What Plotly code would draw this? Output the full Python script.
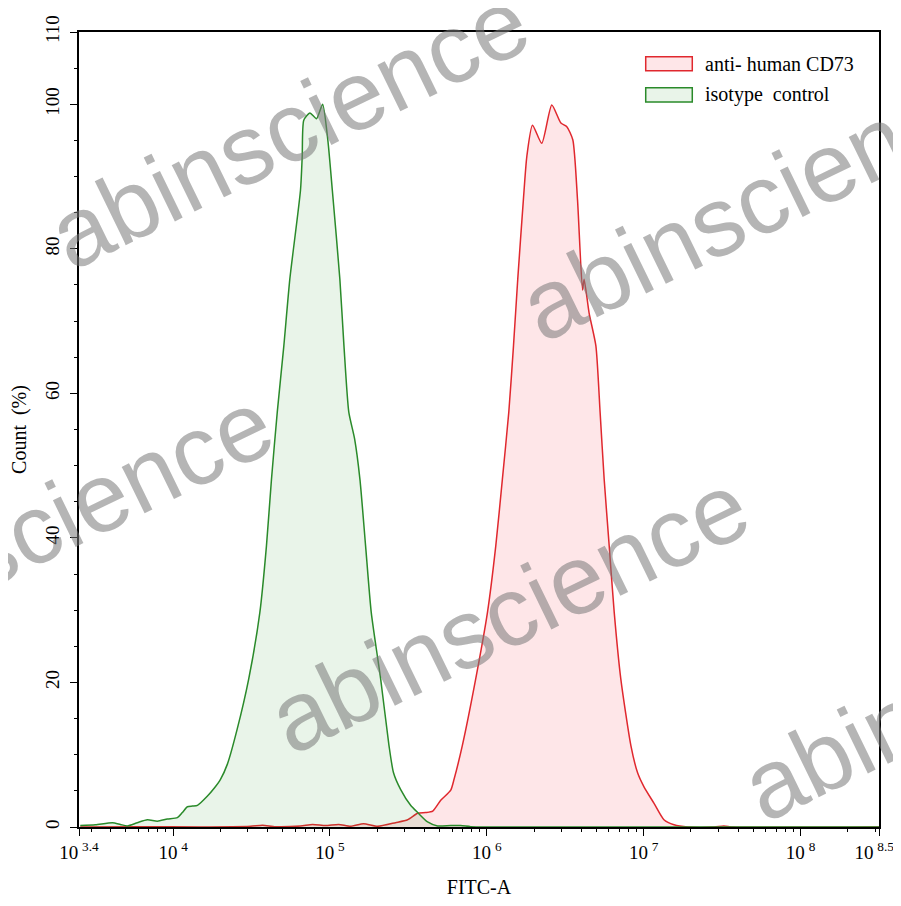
import numpy as np
import plotly.graph_objects as go

# log10(FITC-A) positions and Count (%) values
iso_log = [3.408, 3.504, 3.613, 3.664, 3.708, 3.772, 3.836, 3.900, 3.963, 4.027, 4.059, 4.091,
           4.123, 4.155, 4.219, 4.263, 4.302, 4.346, 4.408, 4.482, 4.553, 4.595, 4.627, 4.664,
           4.706, 4.744, 4.812, 4.823, 4.833, 4.872, 4.914, 4.953, 4.986, 5.015, 5.063, 5.089,
           5.120, 5.157, 5.191, 5.227, 5.263, 5.323, 5.376, 5.405, 5.450, 5.514, 5.559, 5.622,
           5.686, 5.769, 5.833, 5.897, 6.0, 8.5]
iso_cnt = [0.2, 0.3, 0.6, 0.35, 0.15, 0.6, 1.0, 0.8, 1.1, 1.3, 2.0, 2.8,
           2.9, 3.0, 4.3, 5.4, 6.6, 8.7, 13.5, 20.5, 29.7, 38.9, 48.1, 57.4,
           66.6, 75.8, 88.1, 92.8, 97.8, 98.8, 98.0, 100.0, 95.1, 88.1, 75.8, 66.6,
           57.4, 53.7, 48.1, 38.9, 29.7, 20.5, 11.3, 7.5, 5.2, 3.0, 2.0, 0.7,
           0.15, 0.2, 0.2, 0.05, 0.0, 0.0]

cd73_log = [3.408, 3.791, 4.175, 4.493, 4.570, 4.653, 4.812, 4.889, 4.972, 5.055, 5.131, 5.214,
            5.304, 5.418, 5.495, 5.559, 5.610, 5.655, 5.706, 5.770, 5.791, 5.844, 5.929, 6.004,
            6.057, 6.099, 6.140, 6.170, 6.197, 6.233, 6.255, 6.291, 6.350, 6.414, 6.472, 6.510,
            6.548, 6.578, 6.610, 6.620, 6.652, 6.695, 6.722, 6.748, 6.780, 6.812, 6.854, 6.918,
            6.961, 7.001, 7.065, 7.129, 7.193, 7.282, 7.45, 7.51, 7.57, 8.5]
cd73_cnt = [0.0, 0.05, 0.0, 0.1, 0.25, 0.05, 0.15, 0.35, 0.2, 0.35, 0.1, 0.45,
            0.1, 0.6, 1.0, 1.9, 2.0, 2.2, 3.7, 5.1, 6.6, 11.3, 20.5, 29.7,
            38.9, 48.1, 57.4, 66.6, 75.8, 86.8, 92.8, 97.1, 94.6, 99.9, 97.4, 96.9,
            95.1, 86.8, 74.3, 75.8, 71.1, 66.6, 57.4, 48.1, 38.9, 29.7, 20.5, 11.3,
            7.5, 5.6, 3.3, 1.0, 0.3, 0.0, 0.0, 0.15, 0.0, 0.0]

x_tick_exp = [3.4, 4, 5, 6, 7, 8, 8.5]
# the last label carries a trailing space so its visible text stays inside the window, as in the reference
x_tick_text = ["10\u2009<sup>3.4</sup>", "10\u2009<sup>4</sup>", "10\u2009<sup>5</sup>", "10\u2009<sup>6</sup>",
               "10\u2009<sup>7</sup>", "10\u2009<sup>8</sup>", "10\u2009<sup>8.5</sup>\u2002"]
y_tick_vals = [0, 20, 40, 60, 80, 100, 110]

series_names = ["anti- human CD73", "isotype\u00a0 control"]
line_colors = ["#e0282e", "#2a8a2a"]
fill_colors = ["rgba(250,60,80,0.13)", "rgba(40,150,40,0.10)"]

serif = "Liberation Serif, Times New Roman, serif"

fig = go.Figure()
fig.add_trace(go.Scatter(x=10 ** np.array(cd73_log), y=cd73_cnt, mode="lines", name=series_names[0],
                         line=dict(color=line_colors[0], width=1.5, shape="spline", smoothing=0.6),
                         fill="tozeroy", fillcolor=fill_colors[0], showlegend=False))
fig.add_trace(go.Scatter(x=10 ** np.array(iso_log), y=iso_cnt, mode="lines", name=series_names[1],
                         line=dict(color=line_colors[1], width=1.5, shape="spline", smoothing=0.6),
                         fill="tozeroy", fillcolor=fill_colors[1], showlegend=False))

minor_x = []
for d in range(3, 9):
    for m in range(2, 10):
        v = m * 10 ** d
        if 10 ** 3.4 < v < 10 ** 8.5:
            minor_x.append(v)
minor_y = [v for v in range(5, 110, 5) if v not in y_tick_vals]

fig.update_xaxes(type="log", range=[3.4, 8.5], tickmode="array", automargin=False,
                 ticklabeloverflow="allow",
                 tickvals=[10 ** e for e in x_tick_exp], ticktext=x_tick_text,
                 ticks="outside", ticklen=7, tickwidth=1.3, tickcolor="black",
                 showline=True, linecolor="black", linewidth=1.5, mirror=True,
                 showgrid=False, zeroline=False,
                 minor=dict(tickvals=minor_x, ticks="outside", ticklen=3.5, tickwidth=1, tickcolor="black", showgrid=False),
                 tickfont=dict(family=serif, size=19, color="black"),
                 title=dict(text="FITC-A", font=dict(family=serif, size=20, color="black"), standoff=18))
fig.update_yaxes(range=[0, 110], tickmode="array", tickvals=y_tick_vals, automargin=False,
                 ticklabeloverflow="allow",
                 ticks="outside", ticklen=7, tickwidth=1.3, tickcolor="black", tickangle=-90,
                 ticklabelstandoff=4,
                 showline=True, linecolor="black", linewidth=1.5, mirror=True,
                 showgrid=False, zeroline=False,
                 minor=dict(tickvals=minor_y, ticks="outside", ticklen=3.5, tickwidth=1, tickcolor="black", showgrid=False),
                 tickfont=dict(family=serif, size=19, color="black"),
                 title=dict(text="Count\u00a0 (%)", font=dict(family=serif, size=20, color="black"), standoff=10))

# legend drawn as outlined boxes with labels (top right)
leg_rows = [(0.9689, 0.9513), (0.930, 0.912)]
for i, (ya, yb) in enumerate(leg_rows):
    fig.add_shape(type="rect", xref="paper", yref="paper", x0=0.7084, x1=0.7666, y0=yb, y1=ya,
                  line=dict(color=line_colors[i], width=1.5), fillcolor=fill_colors[i])
    fig.add_annotation(x=0.7804, y=(ya + yb) / 2, xref="paper", yref="paper", text=series_names[i],
                       showarrow=False, xanchor="left", yanchor="middle",
                       font=dict(family=serif, size=20, color="black"))

wm = [(0.262, 0.879), (0.851, 0.789), (-0.058, 0.374), (0.538, 0.270), (1.1285, 0.185)]
for (wx, wy) in wm:
    fig.add_annotation(x=wx, y=wy, xref="paper", yref="paper", text="abinscience", showarrow=False,
                       xanchor="center", yanchor="middle",
                       textangle=-26, font=dict(family="Liberation Sans, Arial, sans-serif", size=98,
                                                color="rgba(120,120,120,0.55)"))

# the page adds an 8px body margin, so the figure is sized to fit the 901x906 window
fig.update_layout(width=893, height=898, margin=dict(l=71, r=22, t=24, b=79),
                  paper_bgcolor="white", plot_bgcolor="white", showlegend=False)

fig.write_html("out.html")
